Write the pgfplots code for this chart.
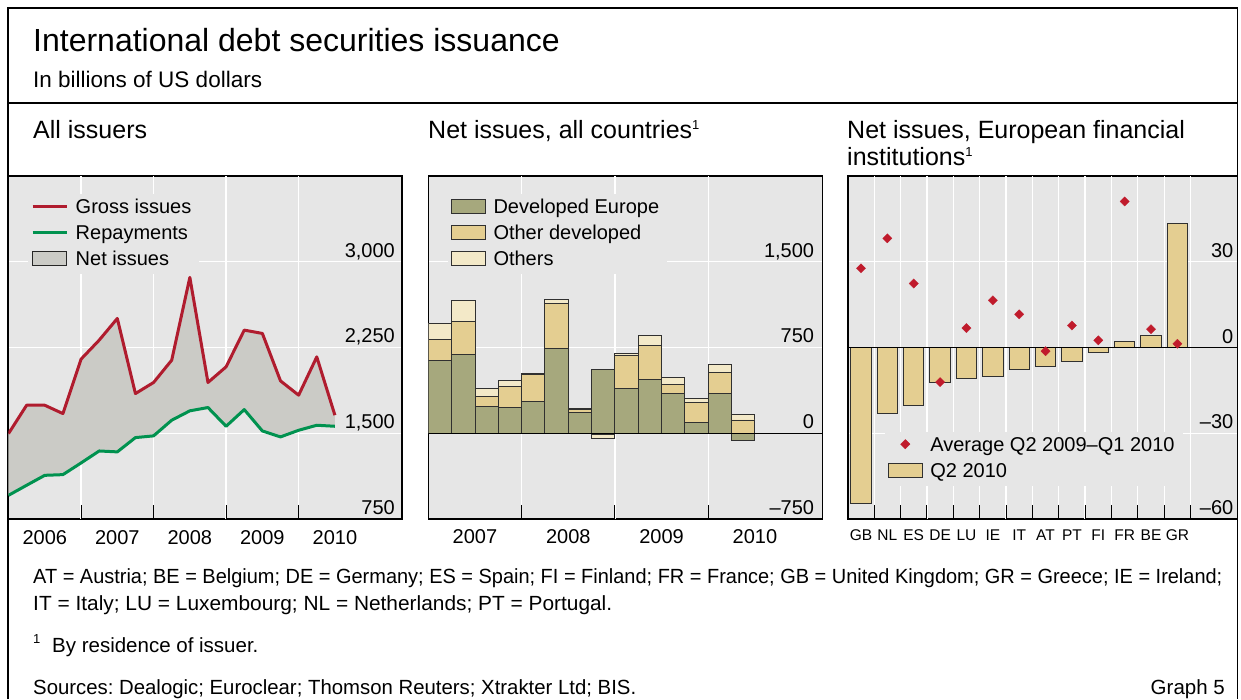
\documentclass[border=0pt]{standalone}
\usepackage{fontspec}
\setmainfont{Liberation Sans}
\usepackage{graphicx}
\usepackage{pgfplots}
\usepackage{pgfplotstable}
\pgfplotsset{compat=1.18}
\frenchspacing

\definecolor{bggray}{HTML}{E6E6E6}
\definecolor{netgray}{HTML}{CBCBC6}
\definecolor{grossred}{HTML}{B01C2E}
\definecolor{repgreen}{HTML}{00924F}
\definecolor{olivec}{HTML}{A6A87D}
\definecolor{tanc}{HTML}{E4CE91}
\definecolor{lightc}{HTML}{F3E9C8}
\definecolor{dred}{HTML}{C01B2C}
\definecolor{edgec}{HTML}{303030}

\pgfplotstableread{
x gross rep
0 1497 957
1 1745 1045
2 1745 1132
3 1672 1138
4 2148 1240
5 2314 1345
6 2504 1337
7 1847 1462
8 1944 1477
9 2139 1614
10 2863 1696
11 1944 1725
12 2081 1561
13 2402 1707
14 2373 1520
15 1958 1468
16 1833 1526
17 2168 1570
18 1658 1561
}\allissuers

% net issues area: gross issues forward, repayments backward
\pgfplotstableread{
x y
0 1497
1 1745
2 1745
3 1672
4 2148
5 2314
6 2504
7 1847
8 1944
9 2139
10 2863
11 1944
12 2081
13 2402
14 2373
15 1958
16 1833
17 2168
18 1658
18 1561
17 1570
16 1526
15 1468
14 1520
13 1707
12 1561
11 1725
10 1696
9 1614
8 1477
7 1462
6 1337
5 1345
4 1240
3 1138
2 1132
1 1045
0 957
}\netarea

\pgfplotstableread{
x dep odp othp den odn othn
0.5 636 187 140 0 0 0
1.5 686 292 186 0 0 0
2.5 233 88 67 0 0 0
3.5 228 180 50 0 0 0
4.5 277 234 14 0 0 0
5.5 744 394 29 0 0 0
6.5 180 24 17 0 0 0
7.5 560 0 0 0 -12 -33
8.5 394 283 17 0 0 0
9.5 467 300 88 0 0 0
10.5 347 82 58 0 0 0
11.5 96 172 35 0 0 0
12.5 347 181 73 0 0 0
13.5 0 116 50 -67 0 0
}\netall

\pgfplotstableread{
x q2 avg
0 -54.6 27.7
1 -23.1 38.2
2 -20.3 22.4
3 -12.1 -12.1
4 -11.0 6.8
5 -10.1 16.5
6 -7.6 11.6
7 -6.8 -1.3
8 -4.9 7.7
9 -1.9 2.5
10 2.1 51.1
11 4.1 6.4
12 43.3 1.3
}\europe

\pgfplotsset{
  panel/.style={
    scale only axis, anchor=south west,
    height=343pt,
    axis background/.style={fill=bggray},
    axis line style={black, line width=1.5pt},
    grid style={white, line width=1.3pt},
    ymajorgrids,
    tick align=inside,
    xtick pos=lower,
    yticklabel pos=right,
    major tick length=0pt,
    tick style={black, line width=1pt},
    tick label style={font=\fontsize{20}{24}\selectfont},
    /pgf/number format/assume math mode=true,
    extra x tick labels={},
    extra x tick style={grid=major, major tick length=14pt},
    legend cell align=left,
    legend style={draw=none, fill=bggray, font=\fontsize{20}{24}\selectfont,
      at={(0,1)}, anchor=north west, inner sep=3pt, row sep=4pt, column sep=2.5pt,
      nodes={inner xsep=5pt, inner ysep=2pt, text height=14pt, text depth=4pt}},
  },
  barseg/.style={ybar, bar width=1, bar shift=0pt, draw=edgec, line width=0.9pt, forget plot},
}

\newcommand{\sups}{\raisebox{9pt}{\fontsize{13}{13}\selectfont 1}}

\begin{document}
\begin{tikzpicture}
\path[use as bounding box] (0pt,0pt) rectangle (1241pt,699pt);

% frame
\draw[line width=1.8pt] (8pt,0pt) -- (8pt,691pt) -- (1237.5pt,691pt) -- (1237.5pt,0pt);
\draw[line width=1.8pt] (8pt,596pt) -- (1237.5pt,596pt);

% titles
\node[anchor=base west, inner sep=0pt, font=\fontsize{32}{38}\selectfont] at (33pt,647pt) {International debt securities issuance};
\node[anchor=base west, inner sep=0pt, font=\fontsize{22.5}{26}\selectfont] at (33pt,611pt) {In billions of US dollars};
\node[anchor=base west, inner sep=0pt, font=\fontsize{25}{30}\selectfont] at (33pt,560pt) {All issuers};
\node[anchor=base west, inner sep=0pt, font=\fontsize{25}{30}\selectfont] at (428pt,560pt) {Net issues, all countries\sups};
\node[anchor=base west, inner sep=0pt, font=\fontsize{25}{30}\selectfont] at (847pt,560pt) {Net issues, European financial};
\node[anchor=base west, inner sep=0pt, font=\fontsize{25}{30}\selectfont] at (847pt,533pt) {institutions\sups};

% Panel 1
\begin{axis}[panel, at={(8.5pt,180pt)}, width=393.5pt,
  xmin=0, xmax=21.7, ymin=750, ymax=3750,
  xtick={2,6,10,14,18}, xticklabels={2006,2007,2008,2009,2010},
  extra x ticks={4,8,12,16},
  ytick={750,1500,2250,3000}, yticklabels={750,{1,500},{2,250},{3,000}},
  yticklabel style={anchor=base east, inner sep=0pt, xshift=-7pt, yshift=4.5pt},
  xticklabel style={anchor=base, inner sep=0pt, yshift=-25pt},
  legend style={xshift=19.5pt, yshift=-18pt},
]
\addlegendimage{legend image code/.code={\draw[grossred, line width=3pt] (0pt,2pt) -- (34pt,2pt);}}
\addlegendentry{Gross issues}
\addlegendimage{legend image code/.code={\draw[repgreen, line width=3pt] (0pt,2pt) -- (34pt,2pt);}}
\addlegendentry{Repayments}
\addlegendimage{legend image code/.code={\draw[fill=netgray, draw=black!85, line width=1pt] (0pt,-5pt) rectangle (34pt,9pt);}}
\addlegendentry{Net issues}
\addplot[fill=netgray, draw=none, forget plot] table[x=x, y=y] {\netarea} -- cycle;
\addplot[grossred, line width=3pt, line join=round, forget plot] table[x=x, y=gross] {\allissuers};
\addplot[repgreen, line width=3pt, line join=round, forget plot] table[x=x, y=rep] {\allissuers};
\end{axis}

% Panel 2
\begin{axis}[panel, at={(428.3pt,180pt)}, width=394pt,
  xmin=0, xmax=16.89, ymin=-750, ymax=2250,
  xtick={2,6,10,14}, xticklabels={2007,2008,2009,2010},
  extra x ticks={4,8,12},
  ytick={-750,0,750,1500}, yticklabels={–750,0,750,{1,500}},
  yticklabel style={anchor=base east, inner sep=0pt, xshift=-8pt, yshift=4.5pt},
  xticklabel style={anchor=base, inner sep=0pt, yshift=-24pt},
  legend style={xshift=19.5pt, yshift=-18pt},
]
\addlegendimage{legend image code/.code={\draw[fill=olivec, draw=edgec, line width=1pt] (0pt,-5pt) rectangle (34pt,9pt);}}
\addlegendentry{Developed Europe}
\addlegendimage{legend image code/.code={\draw[fill=tanc, draw=edgec, line width=1pt] (0pt,-5pt) rectangle (34pt,9pt);}}
\addlegendentry{Other developed}
\addlegendimage{legend image code/.code={\draw[fill=lightc, draw=edgec, line width=1pt] (0pt,-5pt) rectangle (34pt,9pt);}}
\addlegendentry{Others}
% positive parts (drawn as overlapping cumulative bars)
\addplot[barseg, fill=lightc] table[x=x, y expr=\thisrow{dep}+\thisrow{odp}+\thisrow{othp}] {\netall};
\addplot[barseg, fill=tanc] table[x=x, y expr=\thisrow{dep}+\thisrow{odp}] {\netall};
\addplot[barseg, fill=olivec] table[x=x, y=dep] {\netall};
% negative parts
\addplot[barseg, fill=lightc] table[x=x, y expr=\thisrow{den}+\thisrow{odn}+\thisrow{othn}] {\netall};
\addplot[barseg, fill=tanc] table[x=x, y expr=\thisrow{den}+\thisrow{odn}] {\netall};
\addplot[barseg, fill=olivec] table[x=x, y=den] {\netall};
\addplot[black, line width=1.3pt, forget plot] coordinates {(0,0) (16.89,0)};
\end{axis}

% Panel 3
\begin{axis}[panel, at={(847.8pt,180pt)}, width=389.7pt,
  xmin=-0.5, xmax=14.28, ymin=-60, ymax=60,
  xtick={0,...,12}, xticklabels={GB,NL,ES,DE,LU,IE,IT,AT,PT,FI,FR,BE,GR},
  extra x ticks={0.5,1.5,...,12.5},
  ytick={-60,-30,0,30}, yticklabels={–60,–30,0,30},
  yticklabel style={anchor=base east, inner sep=0pt, xshift=-4pt, yshift=4.5pt},
  xticklabel style={anchor=base, inner sep=0pt, yshift=-21pt, font=\fontsize{15.5}{18}\selectfont},
  legend style={xshift=36.8pt, yshift=-256pt},
]
\addlegendimage{legend image code/.code={\path (0pt,0pt) (34pt,0pt); \draw[dred, mark=square*, mark size=3.3pt, mark options={rotate=45, fill=dred}] plot coordinates {(17pt,2pt)};}}
\addlegendentry{Average Q2 2009–Q1 2010}
\addlegendimage{legend image code/.code={\draw[fill=tanc, draw=edgec, line width=1pt] (0pt,-5pt) rectangle (34pt,9pt);}}
\addlegendentry{Q2 2010}
\addplot[ybar, bar width=0.77, bar shift=0pt, fill=tanc, draw=edgec, line width=0.9pt, forget plot] table[x=x, y=q2] {\europe};
\addplot[black, line width=1.3pt, forget plot] coordinates {(-0.5,0) (14.28,0)};
\addplot[only marks, mark=square*, mark size=3.3pt, mark options={rotate=45, fill=dred, draw=dred, line width=0.2pt}, forget plot] table[x=x, y=avg] {\europe};
\end{axis}

% footnotes
\node[anchor=base west, inner sep=0pt, font=\fontsize{20.5}{24}\selectfont] at (33pt,116pt) {\resizebox{1189pt}{\height}{AT = Austria; BE = Belgium; DE = Germany; ES = Spain; FI = Finland; FR = France; GB = United Kingdom; GR = Greece; IE = Ireland;}};
\node[anchor=base west, inner sep=0pt, font=\fontsize{20.5}{24}\selectfont] at (33pt,89pt) {\resizebox{579pt}{\height}{IT = Italy; LU = Luxembourg; NL = Netherlands; PT = Portugal.}};
\node[anchor=base west, inner sep=0pt, font=\fontsize{13}{13}\selectfont] at (33pt,56pt) {1};
\node[anchor=base west, inner sep=0pt, font=\fontsize{20.5}{24}\selectfont] at (52pt,47pt) {By residence of issuer.};
\node[anchor=base west, inner sep=0pt, font=\fontsize{20.5}{24}\selectfont] at (33pt,5pt) {\resizebox{603pt}{\height}{Sources: Dealogic; Euroclear; Thomson Reuters; Xtrakter Ltd; BIS.}};
\node[anchor=base east, inner sep=0pt, font=\fontsize{20.5}{24}\selectfont] at (1225pt,5pt) {Graph 5};
\end{tikzpicture}
\end{document}
